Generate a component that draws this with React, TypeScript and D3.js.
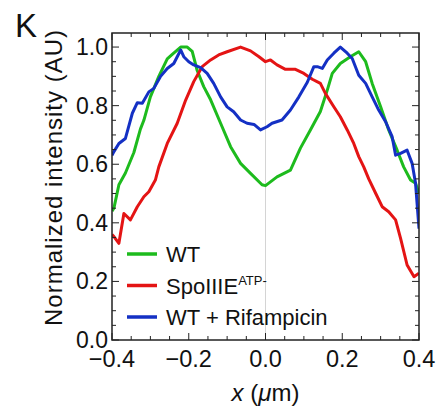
import React, { useRef, useEffect } from 'react';
import * as d3 from 'd3';

// x positions (um) and normalized intensities
const wtX = [-0.4, -0.395, -0.382, -0.365, -0.343, -0.326, -0.317, -0.3, -0.278, -0.256, -0.243, -0.221, -0.204, -0.191, -0.178, -0.161, -0.143, -0.117, -0.091, -0.065, -0.039, -0.009, 0, 0.03, 0.065, 0.091, 0.117, 0.143, 0.161, 0.174, 0.195, 0.221, 0.243, 0.261, 0.278, 0.3, 0.321, 0.343, 0.36, 0.378, 0.391, 0.4];
const wtY = [0.44, 0.45, 0.53, 0.57, 0.64, 0.72, 0.75, 0.83, 0.9, 0.96, 0.975, 1.0, 1.0, 0.985, 0.92, 0.865, 0.82, 0.74, 0.66, 0.603, 0.569, 0.53, 0.527, 0.557, 0.58, 0.655, 0.717, 0.78, 0.853, 0.91, 0.944, 0.967, 0.984, 0.95, 0.876, 0.796, 0.717, 0.648, 0.591, 0.546, 0.535, 0.5];

const spoX = [-0.4, -0.395, -0.382, -0.369, -0.352, -0.334, -0.317, -0.304, -0.287, -0.278, -0.256, -0.23, -0.208, -0.187, -0.165, -0.143, -0.122, -0.1, -0.065, -0.039, -0.017, 0, 0.013, 0.03, 0.052, 0.078, 0.1, 0.122, 0.143, 0.156, 0.178, 0.195, 0.213, 0.23, 0.243, 0.256, 0.269, 0.287, 0.304, 0.321, 0.339, 0.352, 0.369, 0.387, 0.4];
const spoY = [0.36, 0.353, 0.33, 0.432, 0.41, 0.455, 0.489, 0.506, 0.546, 0.591, 0.671, 0.74, 0.819, 0.882, 0.933, 0.956, 0.973, 0.984, 1.0, 0.987, 0.967, 0.95, 0.956, 0.939, 0.924, 0.924, 0.91, 0.89, 0.876, 0.842, 0.796, 0.762, 0.717, 0.671, 0.626, 0.591, 0.55, 0.501, 0.455, 0.438, 0.41, 0.347, 0.256, 0.216, 0.228];

const rifX = [-0.4, -0.395, -0.382, -0.365, -0.347, -0.334, -0.321, -0.304, -0.291, -0.274, -0.256, -0.239, -0.221, -0.213, -0.2, -0.187, -0.169, -0.152, -0.135, -0.117, -0.1, -0.083, -0.065, -0.048, -0.03, -0.013, 0.004, 0.017, 0.043, 0.065, 0.087, 0.109, 0.126, 0.135, 0.148, 0.161, 0.178, 0.195, 0.213, 0.226, 0.243, 0.261, 0.278, 0.295, 0.313, 0.33, 0.339, 0.352, 0.369, 0.382, 0.391, 0.4];
const rifY = [0.63, 0.643, 0.671, 0.688, 0.774, 0.81, 0.808, 0.847, 0.859, 0.899, 0.927, 0.944, 0.99, 0.967, 0.95, 0.939, 0.93, 0.91, 0.876, 0.83, 0.796, 0.779, 0.751, 0.74, 0.736, 0.717, 0.728, 0.74, 0.751, 0.785, 0.83, 0.88, 0.933, 0.933, 0.927, 0.956, 0.979, 1.0, 0.979, 0.961, 0.904, 0.876, 0.83, 0.785, 0.745, 0.694, 0.631, 0.637, 0.648, 0.603, 0.535, 0.38];

const xTicks = [-0.4, -0.2, 0.0, 0.2, 0.4];
const yTicks = [0.0, 0.2, 0.4, 0.6, 0.8, 1.0];

const series = [
  { name: 'WT', sup: '', xs: wtX, ys: wtY, color: '#1dbb1d' },
  { name: 'SpoIIIE', sup: 'ATP-', xs: spoX, ys: spoY, color: '#e41414' },
  { name: 'WT + Rifampicin', sup: '', xs: rifX, ys: rifY, color: '#1430c4' },
];

const W = 442, H = 410;
const L = 112, R = 419, T = 33, B = 340;
const FONT = '"Liberation Sans", Arial, Helvetica, sans-serif';

const Chart = () => {
  const ref = useRef<SVGSVGElement | null>(null);

  useEffect(() => {
    const svg = d3.select(ref.current);
    svg.selectAll('*').remove();

    const x = d3.scaleLinear().domain([-0.4, 0.4]).range([L, R]);
    const y = d3.scaleLinear().domain([0, 1.048]).range([B, T]);

    // light grid line at x = 0
    svg.append('line')
      .attr('x1', x(0)).attr('x2', x(0))
      .attr('y1', T).attr('y2', B)
      .attr('stroke', '#d4d4d4').attr('stroke-width', 1);

    const line = d3.line<[number, number]>()
      .x(d => x(d[0]))
      .y(d => y(d[1]));

    svg.append('clipPath').attr('id', 'plotclip')
      .append('rect').attr('x', L).attr('y', T).attr('width', R - L).attr('height', B - T);

    series.forEach(s => {
      const pts = s.xs.map((v, i) => [v, s.ys[i]] as [number, number]);
      svg.append('path')
        .datum(pts)
        .attr('clip-path', 'url(#plotclip)')
        .attr('fill', 'none')
        .attr('stroke', s.color)
        .attr('stroke-width', 3)
        .attr('stroke-linejoin', 'round')
        .attr('d', line);
    });

    // frame ticks on all four sides
    const minorX = d3.range(-0.4, 0.4001, 0.05);
    const minorY = d3.range(0, 1.0001, 0.05);
    const tk = svg.append('g').attr('stroke', '#222').attr('stroke-width', 1);
    minorX.forEach(v => {
      const major = xTicks.some(t => Math.abs(t - v) < 1e-6);
      const len = major ? 7 : 4;
      tk.append('line').attr('x1', x(v)).attr('x2', x(v)).attr('y1', B).attr('y2', B - len);
      tk.append('line').attr('x1', x(v)).attr('x2', x(v)).attr('y1', T).attr('y2', T + len);
    });
    minorY.forEach(v => {
      const major = yTicks.some(t => Math.abs(t - v) < 1e-6);
      const len = major ? 7 : 4;
      tk.append('line').attr('x1', L).attr('x2', L + len).attr('y1', y(v)).attr('y2', y(v));
      tk.append('line').attr('x1', R).attr('x2', R - len).attr('y1', y(v)).attr('y2', y(v));
    });

    svg.append('rect')
      .attr('x', L).attr('y', T).attr('width', R - L).attr('height', B - T)
      .attr('fill', 'none').attr('stroke', '#222').attr('stroke-width', 1.5);

    const fmt = (v: number) => d3.format('.1f')(v).replace('-', '\u2212');

    svg.append('g').selectAll('text').data(xTicks).join('text')
      .attr('x', d => x(d)).attr('y', 367)
      .attr('text-anchor', 'middle')
      .attr('font-family', FONT).attr('font-size', 23.5).attr('fill', '#111')
      .text(d => fmt(d));

    svg.append('g').selectAll('text').data(yTicks).join('text')
      .attr('x', 108).attr('y', d => y(d) + 8)
      .attr('text-anchor', 'end')
      .attr('font-family', FONT).attr('font-size', 23).attr('fill', '#111')
      .text(d => fmt(d));

    // axis titles
    svg.append('text')
      .attr('transform', `translate(62,178) rotate(-90)`)
      .attr('text-anchor', 'middle')
      .attr('font-family', FONT).attr('font-size', 24).attr('fill', '#111')
      .attr('textLength', 296).attr('lengthAdjust', 'spacing')
      .text('Normalized intensity (AU)');

    const xt = svg.append('text')
      .attr('x', x(0)).attr('y', 401)
      .attr('text-anchor', 'middle')
      .attr('font-family', FONT).attr('font-size', 24).attr('fill', '#111');
    xt.append('tspan').attr('font-style', 'italic').text('x');
    xt.append('tspan').text(' (');
    xt.append('tspan').attr('font-style', 'italic').text('\u03bc');
    xt.append('tspan').text('m)');

    svg.append('text')
      .attr('x', 15).attr('y', 37)
      .attr('font-family', FONT).attr('font-size', 33).attr('fill', '#111')
      .text('K');

    // legend
    const lg = svg.append('g');
    series.forEach((s, i) => {
      const cy = 254 + i * 31.5;
      lg.append('line')
        .attr('x1', 127).attr('x2', 157).attr('y1', cy).attr('y2', cy)
        .attr('stroke', s.color).attr('stroke-width', 3.5);
      const t = lg.append('text')
        .attr('x', 166).attr('y', cy + 8)
        .attr('font-family', FONT).attr('font-size', 22).attr('fill', '#111');
      t.append('tspan').text(s.name);
      if (s.sup) {
        t.append('tspan').attr('font-size', 13).attr('dy', -9).text(s.sup);
      }
    });
  }, []);

  return <svg ref={ref} width={W} height={H} style={{ display: 'block', background: '#fff' }} />;
};

export default function App() {
  return (
    <div style={{ position: 'absolute', left: 0, top: 0 }}>
      <Chart />
    </div>
  );
}
